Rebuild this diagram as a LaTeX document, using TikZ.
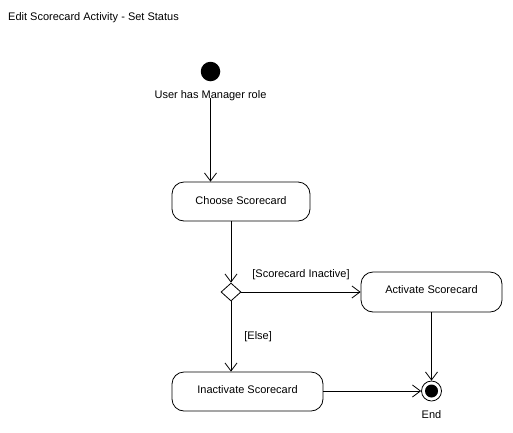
\documentclass[tikz,border=0pt]{standalone}
\usepackage{fontspec}
\setmainfont{Liberation Sans}
\usetikzlibrary{shapes.geometric,arrows.meta}
\begin{document}
\begin{tikzpicture}[x=1pt,y=-1pt,
  every node/.style={font=\fontsize{11}{13}\selectfont},
  actbox/.style={draw,rounded corners=12pt,inner sep=0pt,line width=0.8pt},
  flow/.style={draw,line width=0.8pt,-{Straight Barb[length=8pt,width=12pt,line width=0.8pt]}},
  lbl/.style={inner sep=0pt}]
\useasboundingbox (0,0) rectangle (513,432);
\node[lbl,anchor=west] (title) at (8,18) {Edit Scorecard Activity - Set Status};
\node[circle,fill=black,minimum size=19.5pt,inner sep=0pt] (start) at (210.5,71.5) {};
\node[lbl] (startlbl) at (210.5,96) {User has Manager role};
\node[actbox,minimum width=138pt,minimum height=39pt] (choose) at (241,201.5) {\raisebox{2pt}{Choose Scorecard}};
\node[diamond,draw,line width=0.8pt,minimum width=20pt,minimum height=18pt,inner sep=0pt] (dec) at (231,292) {};
\node[actbox,minimum width=141pt,minimum height=40pt] (act) at (431.5,292) {\raisebox{4pt}{Activate Scorecard}};
\node[actbox,minimum width=151pt,minimum height=39pt] (inact) at (247.5,391.5) {\raisebox{3pt}{Inactivate Scorecard}};
\node[circle,draw,line width=0.8pt,minimum size=20pt,inner sep=0pt] (end) at (431.5,391) {};
\fill (end.center) circle (6.5pt);
\node[lbl] (endlbl) at (431.5,415) {End};
\path[flow] ([yshift=3pt]startlbl.south) -- (startlbl.south |- choose.north);
\path[flow] (dec.north |- choose.south) -- (dec.north);
\path[flow] (dec.east) -- node[lbl,above=12pt,pos=0.5] (lblinact) {[Scorecard Inactive]} (dec.east -| act.west);
\path[flow] (dec.south) -- node[lbl,right=13pt,pos=0.5] (lblelse) {[Else]} (inact.north -| dec.south);
\path[flow] (end.north |- act.south) -- (end.north);
\path[flow] (inact.east |- end.west) -- (end.west);
\end{tikzpicture}
\end{document}
